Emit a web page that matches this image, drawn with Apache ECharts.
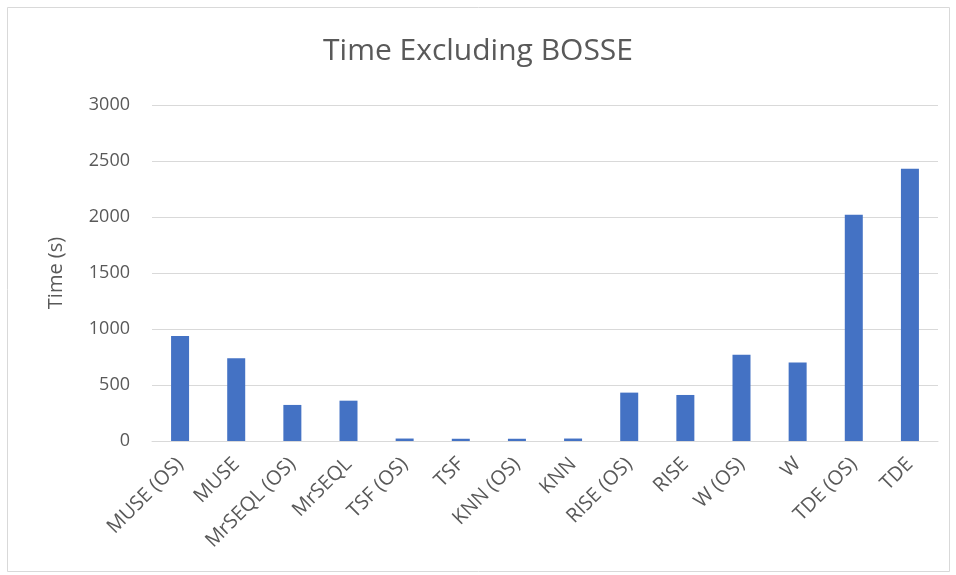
<!DOCTYPE html>
<html><head><meta charset="utf-8">
<script src="https://cdn.jsdelivr.net/npm/echarts@6/dist/echarts.min.js"></script>
<style>html,body{margin:0;padding:0;background:#fff}#c{width:956px;height:575px}</style>
</head><body><div id="c"></div>
<script>
var categories = ["MUSE (OS)","MUSE","MrSEQL (OS)","MrSEQL","TSF (OS)","TSF","KNN (OS)","KNN","RISE (OS)","RISE","W (OS)","W","TDE (OS)","TDE"];
var timeValues = [938, 738, 322, 360, 22, 20, 20, 22, 432, 411, 769, 700, 2020, 2431];
var yTicks = [0, 500, 1000, 1500, 2000, 2500, 3000];
var chart = echarts.init(document.getElementById('c'));
var font = "'Open Sans', sans-serif";
chart.setOption({
  animation: false,
  backgroundColor: '#fff',
  title: {text: 'Time Excluding BOSSE', left: 'center', top: 31,
    textStyle: {fontFamily: font, fontSize: 30, fontWeight: 'normal', color: '#595959'}},
  graphic: [{type: 'rect', shape: {x: 7.5, y: 7.5, width: 942, height: 564},
    style: {fill: null, stroke: '#d9d9d9', lineWidth: 1}, silent: true}],
  grid: {left: 152, right: 18, top: 105, bottom: 134},
  xAxis: {type: 'category', data: categories,
    axisLine: {lineStyle: {color: '#d9d9d9'}}, axisTick: {show: false},
    axisLabel: {rotate: 45, fontFamily: font, fontSize: 20, color: '#595959', margin: 20, interval: 0}},
  yAxis: {type: 'value', min: yTicks[0], max: yTicks[yTicks.length-1], interval: 500,
    name: 'Time (s)', nameLocation: 'middle', nameGap: 86, nameRotate: 90,
    nameTextStyle: {fontFamily: font, fontSize: 20, color: '#595959'},
    axisLine: {show: false}, axisTick: {show: false},
    axisLabel: {fontFamily: font, fontSize: 18, color: '#595959', margin: 22,
      formatter: function (v) { return String(v); }},
    splitLine: {lineStyle: {color: '#d9d9d9', width: 1}}},
  series: [{type: 'bar', data: timeValues, barWidth: 18, itemStyle: {color: '#4472c4'}}]
});
</script></body></html>
